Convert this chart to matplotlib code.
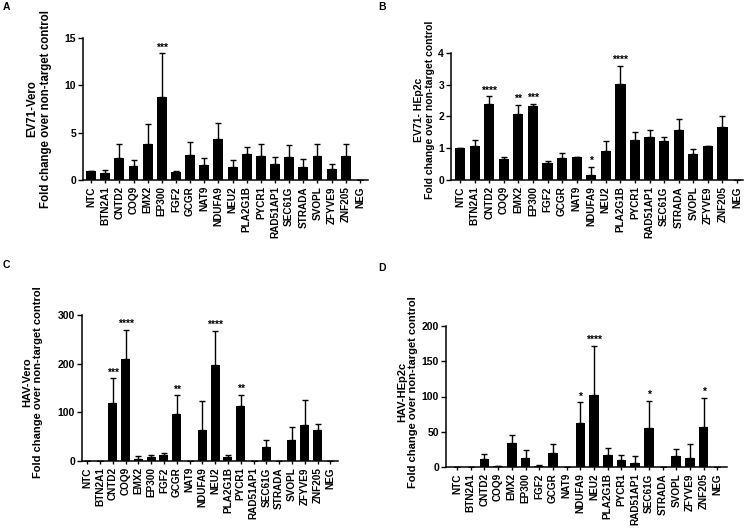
import matplotlib
matplotlib.use("Agg")
import matplotlib.pyplot as plt
import numpy as np

plt.rcParams['font.family'] = ['Liberation Sans', 'DejaVu Sans']
plt.rcParams['font.weight'] = 'bold'

genes = ["NTC", "BTN2A1", "CNTD2", "COQ9", "EMX2", "EP300", "FGF2", "GCGR", "NAT9",
         "NDUFA9", "NEU2", "PLA2G1B", "PYCR1", "RAD51AP1", "SEC61G", "STRADA", "SVOPL",
         "ZFYVE9", "ZNF205", "NEG"]

# Panel A: EV71-Vero
a_mean = [1.0, 0.75, 2.3, 1.5, 3.8, 8.8, 0.8, 2.6, 1.6, 4.3, 1.35, 2.7, 2.55, 1.65, 2.4, 1.4, 2.55, 1.15, 2.55, 0.0]
a_top = [1.0, 1.1, 3.85, 2.1, 5.9, 13.4, 1.0, 4.05, 2.35, 6.0, 2.15, 3.5, 3.85, 2.4, 3.7, 2.2, 3.85, 1.7, 3.75, 0.0]
a_sig = ["", "", "", "", "", "***", "", "", "", "", "", "", "", "", "", "", "", "", "", ""]

# Panel B: EV71-HEp2c
b_mean = [1.0, 1.08, 2.4, 0.65, 2.07, 2.33, 0.55, 0.7, 0.72, 0.17, 0.92, 3.03, 1.27, 1.35, 1.23, 1.58, 0.83, 1.06, 1.67, 0.0]
b_top = [1.0, 1.25, 2.63, 0.71, 2.37, 2.4, 0.61, 0.85, 0.74, 0.42, 1.23, 3.6, 1.52, 1.57, 1.37, 1.93, 0.98, 1.08, 2.0, 0.0]
b_sig = ["", "", "****", "", "**", "***", "", "", "", "*", "", "****", "", "", "", "", "", "", "", ""]

# Panel C: HAV-Vero
c_mean = [0.5, 0.5, 120, 210, 5, 8, 13, 97, 0.5, 64, 197, 8, 112, 0.5, 28, 0.0, 43, 74, 63, 0.0]
c_top = [0.5, 0.5, 170, 270, 10, 12, 17, 135, 0.5, 123, 268, 13, 136, 0.5, 44, 0.0, 70, 125, 77, 0.0]
c_sig = ["", "", "***", "****", "", "", "", "**", "", "", "****", "", "**", "", "", "", "", "", "", ""]

# Panel D: HAV-HEp2c
d_mean = [0.0, 0.0, 11, 1, 34, 13, 1, 20, 0.0, 63, 102, 17, 10, 5, 56, 0.0, 16, 13, 57, 0.0]
d_top = [0.0, 0.0, 19, 2, 46, 24, 3, 33, 0.0, 92, 172, 27, 17, 15, 94, 0.0, 25, 33, 98, 0.0]
d_sig = ["", "", "", "", "", "", "", "", "", "*", "****", "", "", "", "*", "", "", "", "*", ""]

W, H = 750, 529
fig = plt.figure(figsize=(W / 100, H / 100), dpi=100)


def px_axes(x0, x1, ytop, ybot):
    return fig.add_axes([x0 / W, 1 - ybot / H, (x1 - x0) / W, (ybot - ytop) / H])


panels = [
    dict(box=(83, 368, 38, 180), xlim=(-0.57, 19.57), ymax=15, yt=[0, 5, 10, 15],
         mean=a_mean, top=a_top, sig=a_sig, label="EV71-Vero", letter="A", lpos=(3, 7),
         lab=(-0.109, 0.5), lfs=8.3),
    dict(box=(451, 743, 53, 180), xlim=(-0.62, 19.41), ymax=4, yt=[0, 1, 2, 3, 4],
         mean=b_mean, top=b_top, sig=b_sig, label="EV71- HEp2c", letter="B", lpos=(378, 7),
         lab=(-0.055, 0.55), lfs=7.5),
    dict(box=(82, 338, 315, 461), xlim=(-0.4, 19.6), ymax=300, yt=[0, 100, 200, 300],
         mean=c_mean, top=c_top, sig=c_sig, label="HAV-Vero", letter="C", lpos=(3, 265),
         lab=(-0.152, 0.54), lfs=8.0),
    dict(box=(446, 727, 326, 467), xlim=(-0.8, 19.7), ymax=200, yt=[0, 50, 100, 150, 200],
         mean=d_mean, top=d_top, sig=d_sig, label="HAV-HEp2c", letter="D", lpos=(378, 268),
         lab=(-0.0996, 0.53), lfs=8.0),
]

for p in panels:
    ax = px_axes(*p["box"])
    x = np.arange(len(genes))
    mean = np.array(p["mean"])
    err = np.array(p["top"]) - mean
    ax.bar(x, mean, width=0.7, color="black", zorder=2)
    ax.errorbar(x, mean, yerr=[np.zeros_like(err), err], fmt="none", ecolor="black",
                elinewidth=1.0, capsize=2.5, capthick=1.0, zorder=1)
    for xi, s, t in zip(x, p["sig"], p["top"]):
        if s:
            ax.text(xi, t + p["ymax"] * 0.005, s, ha="center", va="bottom", fontsize=7.5,
                    fontweight="bold")
    ax.set_xlim(*p["xlim"])
    ax.set_ylim(0, p["ymax"])
    ax.set_yticks(p["yt"])
    ax.set_xticks(x)
    ax.set_xticklabels(genes, rotation=90, fontsize=7.2, fontweight="bold")
    ax.tick_params(axis="y", labelsize=7.5, width=1.0, length=3.5, pad=1.5)
    ax.tick_params(axis="x", width=1.0, length=2.5, pad=2)
    for lab in ax.get_yticklabels():
        lab.set_fontweight("bold")
    ax.spines["top"].set_visible(False)
    ax.spines["right"].set_visible(False)
    ax.spines["left"].set_linewidth(1.1)
    ax.spines["bottom"].set_linewidth(1.1)
    ax.set_ylabel(p["label"] + "\nFold change over non-target control", fontsize=p["lfs"],
                  fontweight="bold", linespacing=1.15)
    ax.yaxis.set_label_coords(*p["lab"])
    fig.text(p["lpos"][0] / W, 1 - p["lpos"][1] / H, p["letter"], fontsize=7.5,
             fontweight="bold", ha="left", va="center")

fig.savefig("out.png", dpi=100)
